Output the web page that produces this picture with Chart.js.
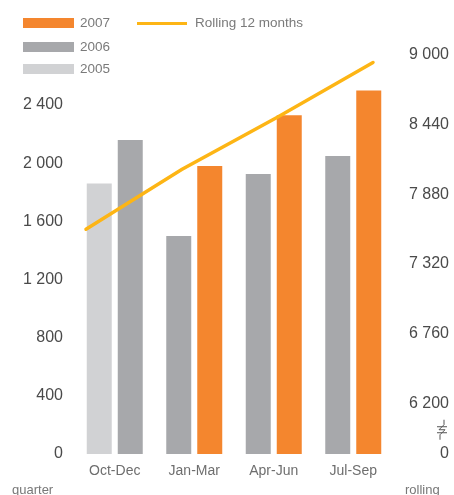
<!DOCTYPE html>
<html lang="en">
<head>
    <meta charset="UTF-8">
    <title>Quarterly sales and rolling 12 months</title>
    <script src="https://cdn.jsdelivr.net/npm/chart.js"></script>
    <style>
        body {
            margin: 0;
            background: #ffffff;
            font-family: 'Liberation Sans', Arial, sans-serif;
        }
        .wrap {
            position: relative;
            width: 454px;
            height: 495px;
            overflow: hidden;
        }
        .layer {
            position: absolute;
            left: 0;
            top: 0;
            width: 454px;
            height: 495px;
        }
        .legend-item {
            position: absolute;
            font-size: 13.5px;
            color: #7a7a7a;
            line-height: 16px;
            white-space: nowrap;
        }
        .swatch {
            position: absolute;
            width: 51px;
            height: 10px;
        }
        .axis-name {
            position: absolute;
            font-size: 13px;
            color: #777;
            top: 482px;
        }
    </style>
</head>
<body>
    <div class="wrap">
        <!-- bars and left axis underneath, rolling line and right axis on top -->
        <div class="layer"><canvas id="barChart"></canvas></div>
        <div class="layer"><canvas id="lineChart"></canvas></div>

        <!-- Legend -->
        <div class="swatch" style="left:23px; top:18px; background:#f4862e;"></div>
        <div class="legend-item" style="left:80px; top:15px;">2007</div>
        <div class="swatch" style="left:23px; top:42px; background:#a7a8ab;"></div>
        <div class="legend-item" style="left:80px; top:39px;">2006</div>
        <div class="swatch" style="left:23px; top:64px; background:#d1d2d4;"></div>
        <div class="legend-item" style="left:80px; top:61px;">2005</div>
        <div class="swatch" style="left:137px; top:22px; width:50px; height:3px; background:#fdb515;"></div>
        <div class="legend-item" style="left:195px; top:15px;">Rolling 12 months</div>

        <div class="axis-name" style="left:12px;">quarter</div>
        <div class="axis-name" style="left:405px;">rolling</div>
    </div>

    <script>
        const quarters = ['Oct-Dec', 'Jan-Mar', 'Apr-Jun', 'Jul-Sep'];
        const sales2005 = [1860, null, null, null];
        const sales2006 = [2160, 1500, 1925, 2050];
        const sales2007 = [null, 1980, 2330, 2500];
        const rolling12 = [7600, 8080, 8500, 8940];
        const quarterTicks = [0, 400, 800, 1200, 1600, 2000, 2400];
        const rollingTicks = [6200, 6760, 7320, 7880, 8440, 9000];

        const fmt = v => String(Math.round(v)).replace(/\B(?=(\d{3})+(?!\d))/g, ' ');
        const tickFont = { family: 'Liberation Sans', size: 16 };

        // both charts share the same plot area: x 75..393, y 55..453
        const AREA = { top: 55, left: 75, right: 61, bottom: 41 };

        // zigzag mark showing the cut between 0 and 6 200 on the right axis
        const axisBreak = {
            id: 'axisBreak',
            afterDraw(chart) {
                const s = chart.scales.y;
                const top = s.getPixelForValue(rollingTicks[0]);
                const mid = (top + s.bottom) / 2 + 1;
                const x = 442;
                const ctx = chart.ctx;
                ctx.save();
                ctx.strokeStyle = '#555';
                ctx.lineWidth = 1;
                ctx.beginPath();
                ctx.moveTo(x - 5, mid - 3); ctx.lineTo(x + 5, mid - 3);
                ctx.moveTo(x - 5, mid + 3); ctx.lineTo(x + 5, mid + 3);
                ctx.moveTo(x + 2, mid - 10);
                ctx.lineTo(x + 2, mid - 5);
                ctx.lineTo(x - 3, mid);
                ctx.lineTo(x + 3, mid);
                ctx.lineTo(x - 2, mid + 5);
                ctx.lineTo(x - 2, mid + 10);
                ctx.stroke();
                ctx.restore();
            }
        };

        const barStyle = {
            skipNull: true,
            barPercentage: 0.806,
            categoryPercentage: 0.78
        };

        new Chart(document.getElementById('barChart'), {
            type: 'bar',
            data: {
                labels: quarters,
                datasets: [
                    { ...barStyle, label: '2005', data: sales2005, backgroundColor: '#d1d2d4' },
                    { ...barStyle, label: '2006', data: sales2006, backgroundColor: '#a7a8ab' },
                    { ...barStyle, label: '2007', data: sales2007, backgroundColor: '#f4862e' }
                ]
            },
            options: {
                responsive: true,
                maintainAspectRatio: false,
                animation: false,
                layout: { padding: { top: AREA.top, left: 0, right: AREA.right, bottom: 0 } },
                plugins: {
                    legend: { display: false },
                    tooltip: { enabled: false }
                },
                scales: {
                    x: {
                        type: 'category',
                        grid: { display: false, drawTicks: false },
                        border: { display: false },
                        ticks: {
                            color: '#6e6e6e',
                            font: { family: 'Liberation Sans', size: 14 },
                            padding: 9,
                            autoSkip: false,
                            maxRotation: 0
                        },
                        afterFit: s => { s.height = AREA.bottom; }
                    },
                    y: {
                        position: 'left',
                        min: 0,
                        max: 2744,
                        grid: { display: false, drawTicks: false },
                        border: { display: false },
                        afterBuildTicks: s => { s.ticks = quarterTicks.map(v => ({ value: v })); },
                        ticks: {
                            color: '#4a4a4a',
                            font: tickFont,
                            padding: 12,
                            autoSkip: false,
                            callback: v => fmt(v)
                        },
                        afterFit: s => { s.width = AREA.left; }
                    }
                }
            }
        });

        new Chart(document.getElementById('lineChart'), {
            type: 'line',
            data: {
                datasets: [{
                    label: 'Rolling 12 months',
                    data: rolling12.map((v, i) => ({ x: i, y: v })),
                    borderColor: '#fdb515',
                    borderWidth: 3.5,
                    borderCapStyle: 'round',
                    pointRadius: 0,
                    tension: 0
                }]
            },
            options: {
                responsive: true,
                maintainAspectRatio: false,
                animation: false,
                // right-aligned labels end at the scale edge, so keep 5px clear of the border
                layout: { padding: { top: AREA.top, left: AREA.left, right: 5, bottom: AREA.bottom } },
                plugins: {
                    legend: { display: false },
                    tooltip: { enabled: false }
                },
                scales: {
                    x: {
                        type: 'linear',
                        display: false,
                        min: -0.115,
                        max: 3.209
                    },
                    y: {
                        position: 'right',
                        min: 5794,
                        max: 9000,
                        grid: { display: false, drawTicks: false },
                        border: { display: false },
                        afterBuildTicks: s => {
                            s.ticks = [s.min, ...rollingTicks].map(v => ({ value: v }));
                        },
                        ticks: {
                            color: '#4a4a4a',
                            font: tickFont,
                            padding: 10,
                            crossAlign: 'far',
                            autoSkip: false,
                            callback: v => v < rollingTicks[0] ? '0' : fmt(v)
                        },
                        afterFit: s => { s.width = AREA.right - 5; }
                    }
                }
            },
            plugins: [axisBreak]
        });
    </script>
</body>
</html>
